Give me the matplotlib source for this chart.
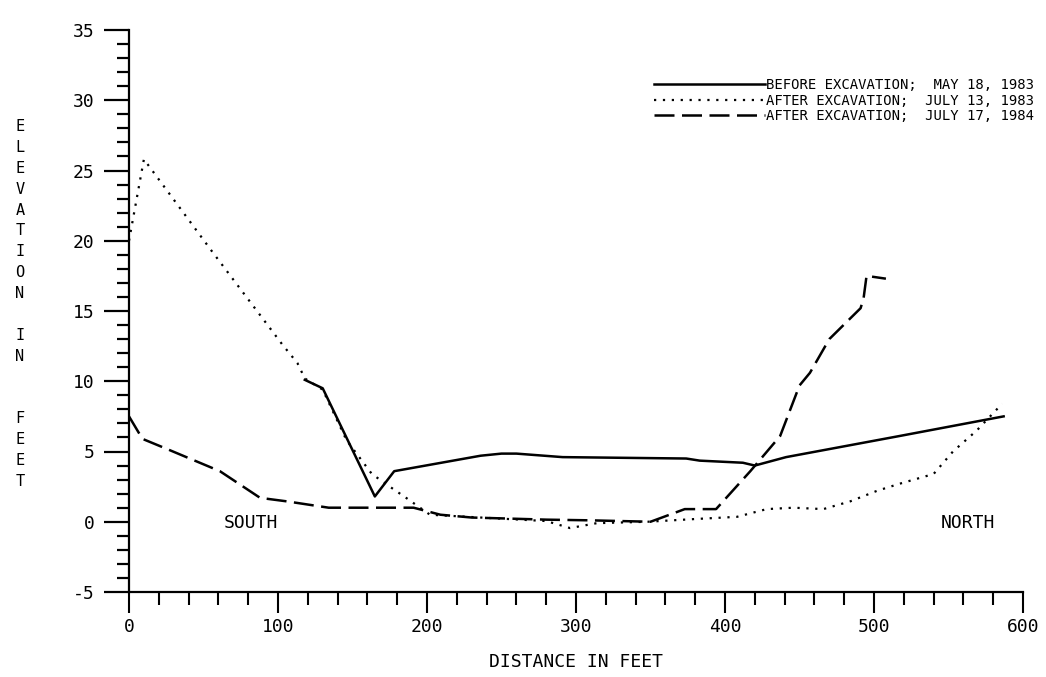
import matplotlib
matplotlib.use("Agg")
import matplotlib.pyplot as plt
from matplotlib.ticker import MultipleLocator

plt.rcParams["axes.unicode_minus"] = False

# ---- data (distance in feet, elevation in feet) ----
before_x = [118, 130, 165, 178, 236, 250, 260, 291, 374, 383, 412, 420, 441, 517, 587]
before_y = [10.1, 9.5, 1.8, 3.6, 4.7, 4.85, 4.85, 4.6, 4.5, 4.35, 4.2, 4.0, 4.6, 6.1, 7.5]

after83_x = [0, 10, 56, 103, 113, 118, 130, 146, 163, 175, 186, 202, 236, 280, 296, 314,
             348, 381, 408, 428, 446, 466, 484, 502, 517, 540, 553, 569, 586]
after83_y = [20.0, 25.8, 19.2, 12.6, 11.3, 10.2, 9.4, 5.8, 3.4, 2.5, 1.7, 0.5, 0.3, 0.05, -0.45, -0.1,
             0.0, 0.2, 0.35, 0.9, 1.0, 0.9, 1.45, 2.2, 2.7, 3.4, 5.0, 6.5, 8.4]

after84_x = [0, 9, 25, 61, 88, 106, 134, 191, 209, 230, 280, 310, 350, 373, 394,
             417, 437, 450, 457, 470, 491, 493, 495, 508]
after84_y = [7.5, 5.9, 5.2, 3.6, 1.7, 1.45, 1.0, 1.0, 0.5, 0.3, 0.15, 0.1, 0.0, 0.9, 0.9,
             3.6, 6.1, 9.7, 10.6, 13.0, 15.2, 15.9, 17.5, 17.3]

labels = ["BEFORE EXCAVATION;  MAY 18, 1983",
          "AFTER EXCAVATION;  JULY 13, 1983",
          "AFTER EXCAVATION;  JULY 17, 1984"]

x_ticks = [0, 100, 200, 300, 400, 500, 600]
y_ticks = [-5, 0, 5, 10, 15, 20, 25, 30, 35]

MONO = ["DejaVu Sans Mono"]

fig = plt.figure(figsize=(10.46, 6.77), dpi=100)
ax = fig.add_axes([129 / 1046, 1 - 592 / 677, (1023 - 129) / 1046, (592 - 30) / 677])

ax.plot(before_x, before_y, color="black", lw=1.8, solid_joinstyle="round",
        label=labels[0])
ax.plot(after83_x, after83_y, color="black", lw=1.6, linestyle=(0, (1, 3)),
        label=labels[1])
ax.plot(after84_x, after84_y, color="black", lw=1.8, linestyle=(0, (8, 3)),
        label=labels[2])

ax.set_xlim(0, 600)
ax.set_ylim(-5, 35)
for s in ("top", "right"):
    ax.spines[s].set_visible(False)
for s in ("left", "bottom"):
    ax.spines[s].set_linewidth(1.6)

ax.set_xticks(x_ticks)
ax.set_yticks(y_ticks)
ax.xaxis.set_minor_locator(MultipleLocator(20))
ax.yaxis.set_minor_locator(MultipleLocator(1))
ax.tick_params(axis="x", which="major", direction="out", length=15, width=1.5, pad=4)
ax.tick_params(axis="x", which="minor", direction="out", length=9, width=1.5)
ax.tick_params(axis="y", which="major", direction="out", length=18, width=1.6, pad=7)
ax.tick_params(axis="y", which="minor", direction="out", length=9, width=1.6)
for lab in ax.get_xticklabels() + ax.get_yticklabels():
    lab.set_family(MONO)
    lab.set_fontsize(13)

ax.set_xlabel("DISTANCE IN FEET", family=MONO, fontsize=13, labelpad=12)

ylab = "E\nL\nE\nV\nA\nT\nI\nO\nN\n\nI\nN\n\n\nF\nE\nE\nT"
fig.text(20 / 1046, 1 - 304 / 677, ylab, family=MONO, fontsize=11,
         ha="center", va="center", linespacing=1.49)

ax.text(82, -0.1, "SOUTH", family=MONO, fontsize=13, ha="center", va="center")
ax.text(563, -0.1, "NORTH", family=MONO, fontsize=13, ha="center", va="center")

leg = ax.legend(loc="upper right", bbox_to_anchor=(1034 / 1046, 1 - 78 / 677),
                bbox_transform=fig.transFigure, frameon=False,
                prop={"family": MONO, "size": 10}, handlelength=8,
                handletextpad=0.1, labelspacing=0.12, borderpad=0,
                borderaxespad=0)

fig.savefig("out.png", dpi=100)
